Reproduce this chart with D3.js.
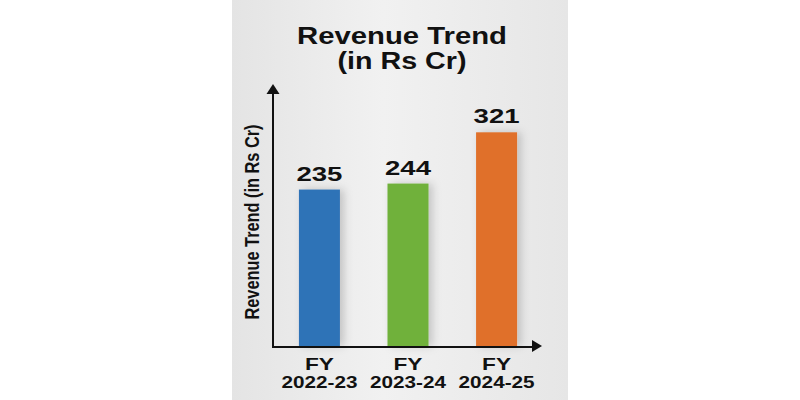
<!DOCTYPE html><meta charset="utf-8">
<title>Revenue Trend</title>
<style>
  body{margin:0;background:#fff}
  svg{display:block}
  text{font-family:'Liberation Sans',Arial,sans-serif;font-weight:bold;fill:#111}
</style>
<script src="https://d3js.org/d3.v7.min.js"></script>
<body><script>
const years   = ["FY 2022-23", "FY 2023-24", "FY 2024-25"];
const revenue = [235, 244, 321];
const colors  = ["#2f73b7", "#70b13a", "#e0702a"];
const title   = ["Revenue Trend", "(in Rs Cr)"];
const yTitle  = "Revenue Trend (in Rs Cr)";

const W = 800, H = 400, base = 346, left = 273;
const svg = d3.select("body").append("svg").attr("width", W).attr("height", H);

/* ---- panel ---- */
const defs = svg.append("defs");
const grad = defs.append("linearGradient").attr("id", "panel");
grad.append("stop").attr("offset", "0%").attr("stop-color", "#e4e4e4");
grad.append("stop").attr("offset", "45%").attr("stop-color", "#f1f1f1");
grad.append("stop").attr("offset", "100%").attr("stop-color", "#e6e6e6");
const sh = defs.append("filter").attr("id", "shadow")
  .attr("x", "-30%").attr("y", "-10%").attr("width", "170%").attr("height", "120%");
sh.append("feDropShadow").attr("dx", 4).attr("dy", 0).attr("stdDeviation", 4)
  .attr("flood-color", "#000").attr("flood-opacity", 0.18);
svg.append("rect").attr("x", 232).attr("y", 0).attr("width", 336).attr("height", H)
  .attr("fill", "url(#panel)");

/* ---- scales ---- */
const x = d3.scaleBand().domain(years).range([275, 541])
  .paddingInner(0.537).paddingOuter(0.27);
const y = d3.scaleLinear().domain([0, 350]).range([base, 113]);

/* ---- bars ---- */
svg.selectAll("rect.bar").data(years).join("rect").attr("class", "bar")
  .attr("x", d => x(d)).attr("width", x.bandwidth())
  .attr("y", (d, i) => y(revenue[i])).attr("height", (d, i) => base - y(revenue[i]))
  .attr("fill", (d, i) => colors[i]).attr("filter", "url(#shadow)");

svg.selectAll("text.val").data(years).join("text").attr("class", "val")
  .attr("x", d => x(d) + x.bandwidth() / 2).attr("y", (d, i) => y(revenue[i]) - 9)
  .attr("text-anchor", "middle").style("font-size", "20px")
  .attr("textLength", 46).attr("lengthAdjust", "spacingAndGlyphs")
  .text((d, i) => revenue[i]);

/* ---- axes ---- */
const xAxis = svg.append("g").attr("transform", `translate(0,${base})`)
  .call(d3.axisBottom(x).tickSize(0));
xAxis.select(".domain").remove();
xAxis.selectAll(".tick text").remove();
xAxis.selectAll(".tick").each(function(d) {
  const parts = d.split(" ");
  const g = d3.select(this);
  g.append("text").attr("y", 24).attr("text-anchor", "middle")
    .style("font-size", "17px").attr("textLength", 29)
    .attr("lengthAdjust", "spacingAndGlyphs").text(parts[0]);
  g.append("text").attr("y", 42).attr("text-anchor", "middle")
    .style("font-size", "17px").attr("textLength", 76)
    .attr("lengthAdjust", "spacingAndGlyphs").text(parts[1]);
});

svg.append("path").attr("fill", "none").attr("stroke", "#111").attr("stroke-width", 2)
  .attr("d", `M${left},92V${base + 1}H534`);
svg.append("path").attr("fill", "#111")
  .attr("d", `M${left},84l6.5,10h-13z`);
svg.append("path").attr("fill", "#111")
  .attr("d", `M542,${base}l-10,-6v12z`);

/* ---- titles ---- */
const tLen = [210, 129];
svg.append("g").selectAll("text").data(title).join("text")
  .attr("x", 402).attr("y", (d, i) => 44 + i * 25)
  .attr("text-anchor", "middle").style("font-size", "23px")
  .attr("textLength", (d, i) => tLen[i]).attr("lengthAdjust", "spacingAndGlyphs")
  .text(d => d);

svg.append("text").attr("transform", "translate(259,222) rotate(-90)")
  .attr("text-anchor", "middle").style("font-size", "20px")
  .attr("textLength", 195).attr("lengthAdjust", "spacingAndGlyphs")
  .text(yTitle);
</script>
